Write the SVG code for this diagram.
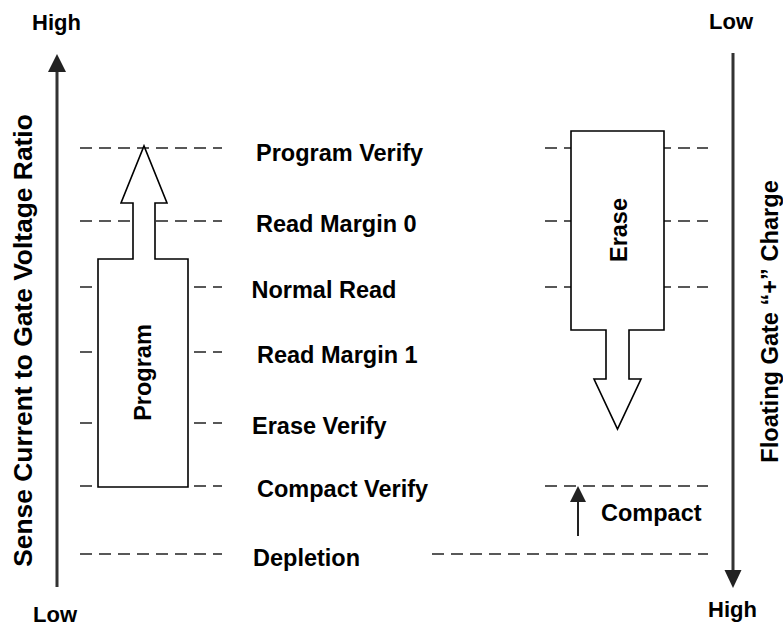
<svg xmlns="http://www.w3.org/2000/svg" width="783" height="625" viewBox="0 0 783 625">
  <style>
    text { font-family: "Liberation Sans", Arial, sans-serif; font-weight: bold; fill: #000; }
    .lbl { font-size: 23.5px; }
    .end { font-size: 22px; }
    .axis { stroke: #333; stroke-width: 3; fill: none; }
    .head { fill: #222; stroke: none; }
    .dash { stroke: #222; stroke-width: 1.7; stroke-dasharray: 12 7; fill: none; }
    .block { fill: #fff; stroke: #000; stroke-width: 1.6; stroke-linejoin: miter; }
  </style>

  <!-- level lines -->
  <g id="levels">
    <line class="dash" x1="80" y1="148" x2="222" y2="148"/>
    <line class="dash" x1="80" y1="221" x2="222" y2="221"/>
    <line class="dash" x1="80" y1="287" x2="222" y2="287"/>
    <line class="dash" x1="80" y1="352" x2="222" y2="352"/>
    <line class="dash" x1="80" y1="423" x2="222" y2="423"/>
    <line class="dash" x1="80" y1="486" x2="222" y2="486"/>
    <line class="dash" x1="80" y1="554" x2="222" y2="554"/>

    <line class="dash" x1="545" y1="148" x2="708" y2="148"/>
    <line class="dash" x1="545" y1="221" x2="708" y2="221"/>
    <line class="dash" x1="545" y1="287" x2="708" y2="287"/>
    <line class="dash" x1="545" y1="486" x2="708" y2="486"/>
    <line class="dash" x1="432" y1="554" x2="708" y2="554"/>
  </g>

  <!-- axes -->
  <g id="axis-left">
    <line class="axis" x1="57" y1="70" x2="57" y2="587"/>
    <polygon class="head" points="57,54 48,72 66,72"/>
    <text class="end" x="32" y="30">High</text>
    <text class="end" x="33" y="621.5">Low</text>
    <text transform="translate(32,340.5) rotate(-90)" text-anchor="middle" style="font-size:26.4px">Sense Current to Gate Voltage Ratio</text>
  </g>
  <g id="axis-right">
    <line class="axis" x1="733" y1="53" x2="733" y2="572"/>
    <polygon class="head" points="733,588 724.5,570 741.5,570"/>
    <text class="end" x="709" y="29">Low</text>
    <text class="end" x="708" y="617">High</text>
    <text transform="translate(777.5,321.5) rotate(-90)" text-anchor="middle" style="font-size:23.6px">Floating Gate “+” Charge</text>
  </g>

  <!-- program block arrow -->
  <g id="program">
    <polygon class="block" points="98,259 133,259 133,203 121,203 144,146 167,203 155,203 155,259 188,259 188,487 98,487"/>
    <text class="lbl" transform="translate(150.5,372.5) rotate(-90)" text-anchor="middle">Program</text>
  </g>

  <!-- erase block arrow -->
  <g id="erase">
    <polygon class="block" points="571,131 664,131 664,330 629,330 629,379 641,379 617.5,429 594,379 606,379 606,330 571,330"/>
    <text class="lbl" transform="translate(627,230) rotate(-90)" text-anchor="middle">Erase</text>
  </g>

  <!-- compact step -->
  <g id="compact">
    <line x1="578" y1="536" x2="578" y2="500" stroke="#222" stroke-width="2"/>
    <polygon class="head" points="578,486 570,502 586,502"/>
    <text class="lbl" x="601" y="521">Compact</text>
  </g>

  <!-- level names -->
  <g id="labels">
    <text class="lbl" x="256" y="160.5">Program Verify</text>
    <text class="lbl" x="256" y="231.5">Read Margin 0</text>
    <text class="lbl" x="251.5" y="297.5">Normal Read</text>
    <text class="lbl" x="257" y="363">Read Margin 1</text>
    <text class="lbl" x="252" y="434">Erase Verify</text>
    <text class="lbl" x="257" y="497">Compact Verify</text>
    <text class="lbl" x="253" y="566">Depletion</text>
  </g>
</svg>
